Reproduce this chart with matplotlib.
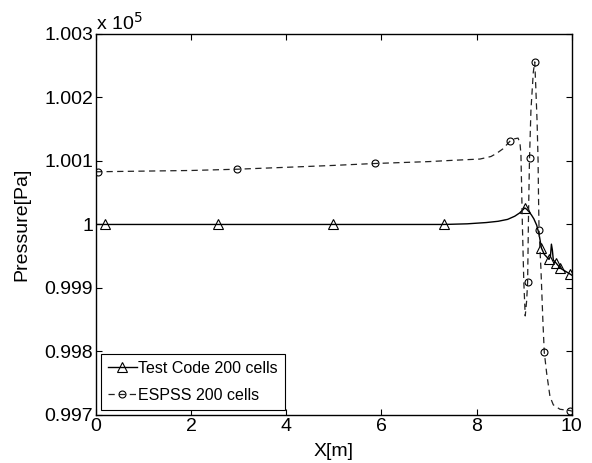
import matplotlib
matplotlib.use("Agg")
import matplotlib.pyplot as plt

plt.rcParams['font.family'] = ['Liberation Sans', 'DejaVu Sans']

# Data (pressure in units of 1e5 Pa)
tc_x = [0.0, 0.19, 2.56, 4.98, 7.31, 7.8, 8.2, 8.45, 8.65, 8.8, 8.9, 8.97, 9.01,
        9.05, 9.1, 9.15, 9.2, 9.26, 9.31, 9.36, 9.42, 9.47, 9.52, 9.55, 9.57,
        9.59, 9.61, 9.66, 9.76, 9.96, 10.0]
tc_y = [1.0, 1.0, 1.0, 1.0, 1.0, 1.00001, 1.00003, 1.00005, 1.00008, 1.00013,
        1.00018, 1.00023, 1.00026, 1.00024, 1.00020, 1.00015, 1.00009, 0.99999,
        0.99985, 0.99963, 0.99953, 0.99949, 0.99945, 0.99950, 0.99969, 0.99960,
        0.99944, 0.99940, 0.99931, 0.99922, 0.99920]
tc_marker_x = [0.19, 2.56, 4.98, 7.31, 9.01, 9.36, 9.52, 9.66, 9.76, 9.96]

es_x = [0.0, 0.04, 1.0, 2.0, 2.97, 4.0, 5.0, 5.86, 7.0, 7.5, 8.07, 8.3, 8.42,
        8.55, 8.71, 8.8, 8.87, 8.91, 8.93, 8.96, 8.99, 9.02, 9.05, 9.07, 9.09,
        9.11, 9.14, 9.19, 9.22, 9.24, 9.27, 9.29, 9.30, 9.31, 9.35, 9.39, 9.42,
        9.47, 9.54, 9.61, 9.75, 9.96, 10.0]
es_y = [1.00083, 1.00083, 1.00084, 1.00085, 1.00087, 1.00090, 1.00093, 1.00096,
        1.00099, 1.00101, 1.00103, 1.00107, 1.00112, 1.00119, 1.00132, 1.00135,
        1.00136, 1.00128, 1.00110, 1.00000, 0.99910, 0.99856, 0.99880, 0.99909,
        1.00020, 1.00104, 1.00180, 1.00240, 1.00256, 1.00220, 1.00160, 1.00100,
        1.00040, 0.99992, 0.99930, 0.99850, 0.99799, 0.99766, 0.99729, 0.99716,
        0.99709, 0.99707, 0.99706]
es_marker_x = [0.04, 2.97, 5.86, 8.71, 9.07, 9.11, 9.22, 9.31, 9.42, 9.96]

xticks = [0, 2, 4, 6, 8, 10]
yticks = [0.997, 0.998, 0.999, 1.0, 1.001, 1.002, 1.003]
ytick_labels = ['0.997', '0.998', '0.999', '1', '1.001', '1.002', '1.003']

fig = plt.figure(figsize=(5.92, 4.63), dpi=100)
ax = fig.add_axes([0.162, 0.1037, 0.804, 0.823])

tc_idx = [tc_x.index(v) for v in tc_marker_x]
es_idx = [es_x.index(v) for v in es_marker_x]

ax.plot(tc_x, tc_y, color='black', lw=1.0, marker='^', markevery=tc_idx,
        markersize=6.5, markerfacecolor='none', markeredgecolor='black',
        markeredgewidth=0.8, label='Test Code 200 cells')
ax.plot(es_x, es_y, color='#222222', lw=0.9, ls=(0, (5, 3.5)), marker='o',
        markevery=es_idx, markersize=5, markerfacecolor='none',
        markeredgecolor='black', markeredgewidth=0.8, label='ESPSS 200 cells')

ax.set_xlim(0, 10)
ax.set_ylim(0.997, 1.003)
ax.set_xticks(xticks)
ax.set_yticks(yticks)
ax.set_yticklabels(ytick_labels)
ax.tick_params(direction='in', top=True, right=True, labelsize=14, length=4,
               width=0.8, pad=2)
for s in ax.spines.values():
    s.set_linewidth(1.0)

ax.set_xlabel('X[m]', fontsize=14, labelpad=6)
ax.set_ylabel('Pressure[Pa]', fontsize=14, labelpad=10)
ax.text(0.0, 1.003, 'x 10$^{5}$', transform=ax.transData, fontsize=14,
        ha='left', va='bottom')

leg = ax.legend(loc='lower left', fontsize=11.5, frameon=True, fancybox=False,
                edgecolor='black', framealpha=1, handlelength=1.8,
                borderpad=0.45, labelspacing=0.75, handletextpad=0.1,
                borderaxespad=0.3)
leg.get_frame().set_linewidth(0.8)

fig.savefig('out.png', dpi=100)
